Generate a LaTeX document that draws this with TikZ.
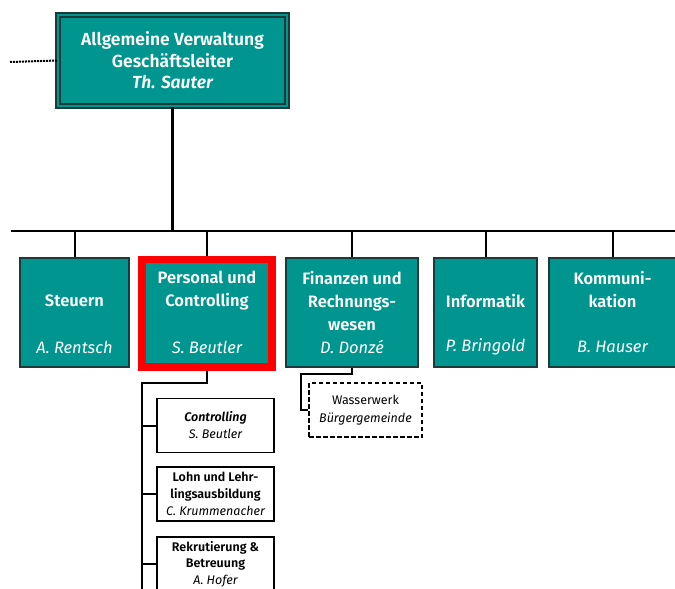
\documentclass[tikz,border=0pt]{standalone}
\usepackage{fontspec}
\setmainfont{Fira Sans}[BoldFont={Fira Sans SemiBold}, BoldItalicFont={Fira Sans SemiBold Italic}]
\definecolor{unitfill}{HTML}{00958F}
\definecolor{unitline}{HTML}{1C3B38}
\definecolor{markred}{HTML}{FF0000}
\tikzset{
    unit/.style={draw=unitline, fill=unitfill, line width=1.6pt, inner sep=0pt,
        minimum height=109pt},
    unittitle/.style={text=white, font=\bfseries\fontsize{16.5}{23}\selectfont,
        align=center, inner sep=0pt},
    unitname/.style={text=white, font=\itshape\fontsize{16.5}{18}\selectfont, inner sep=0pt},
    subunit/.style={draw=black, fill=white, line width=1.6pt, minimum width=117pt,
        minimum height=54pt, inner sep=0pt, align=center,
        font=\fontsize{12.5}{17}\selectfont},
    link/.style={draw=black, line width=2pt},
}
\begin{document}
\begin{tikzpicture}[x=1pt,y=-1pt]
                    \useasboundingbox (0,0) rectangle (675,589);
                    \clip (0,0) rectangle (675,589);

                    % head of the office
                    \node[draw=unitline, double=unitfill, double distance=2.2pt, line width=1.6pt,
                        fill=unitfill, minimum width=229pt, minimum height=91pt, inner sep=0pt,
                        text=white, align=center, font=\bfseries\fontsize{17.5}{21.5}\selectfont]
                        (head) at (172.5,60.5)
                        {Allgemeine Verwaltung\\Geschäftsleiter\\{\itshape Th. Sauter}};
                    \coordinate (staff) at (10,62);
                    \draw[line width=2pt, dash pattern=on 2pt off 1pt] (staff) -- (head.west);

                    % the bar
                    \coordinate (bar-l) at (11,231);
                    \coordinate (bar-r) at (676,231);
                    \coordinate (bar-m) at (172.5,231);
                    \draw[link] (bar-l) -- (bar-r);
                    \draw[link, line width=3pt] (head.south) -- (bar-m);

                    % the departments
                    \node[unit, minimum width=109pt] (steuern) at (74.5,312.5) {};
                    \node[unit, draw=markred, line width=7.5pt, minimum width=130pt,
                        minimum height=107.5pt] (personal) at (207,313.25) {};
                    \node[unit, minimum width=132pt] (finanzen) at (352,312.5) {};
                    \node[unit, minimum width=103pt] (informatik) at (485.5,312.5) {};
                    \node[unit, minimum width=127pt] (kommunikation) at (612.5,312.5) {};

                    \foreach \d in {steuern,personal,finanzen,informatik,kommunikation}
                        \draw[link] (\d.north) -- (\d.north |- bar-l);

                    \node[unittitle] (steuern-t) at (74.5,301) {Steuern};
                    \node[unittitle, anchor=north] (personal-t) at (207,271) {Personal und\\Controlling};
                    \node[unittitle, anchor=north] (finanzen-t) at (352,271) {Finanzen und\\Rechnungs-\\wesen};
                    \node[unittitle] (informatik-t) at (485.5,301) {Informatik};
                    \node[unittitle, anchor=north] (kommunikation-t) at (612.5,271) {Kommuni-\\kation};

                    \node[unitname] (steuern-n) at (74.5,347) {A. Rentsch};
                    \node[unitname] (personal-n) at (207,347) {S. Beutler};
                    \node[unitname] (finanzen-n) at (352,347) {D. Donzé};
                    \node[unitname] (informatik-n) at (485.5,347) {P. Bringold};
                    \node[unitname] (kommunikation-n) at (612.5,347) {B. Hauser};

                    % sections of Personal und Controlling
                    \node[subunit] (controlling) at (215.5,425.5)
                        {{\bfseries\itshape Controlling}\\{\itshape S. Beutler}};
                    \node[subunit] (lohn) at (215.5,494)
                        {\bfseries Lohn und Lehr-\\\bfseries lingsausbildung\\{\itshape C. Krummenacher}};
                    \node[subunit, font=\fontsize{12.5}{16.5}\selectfont] (rekrutierung) at (215.5,564)
                        {\bfseries Rekrutierung \&\\\bfseries Betreuung\\{\itshape A. Hofer}};

                    \coordinate (spine-top) at (142,383);
                    \coordinate (spine-bot) at (142,600);
                    \draw[link] (personal.south) |- (spine-top) -- (spine-bot);
                    \foreach \s in {controlling,lohn,rekrutierung}
                        \draw[link] (\s.west) -- (\s.west -| spine-top);

                    % waterworks
                    \node[subunit, dash pattern=on 4.5pt off 2.5pt, minimum width=113pt,
                        font=\fontsize{12.5}{18}\selectfont]
                        (wasserwerk) at (365.5,410) {Wasserwerk\\{\itshape Bürgergemeinde}};
                    \coordinate (wasser-knee) at (301,374);
                    \draw[link] (finanzen.south) |- (wasser-knee) |- (wasserwerk.west);

                \end{tikzpicture}
\end{document}
